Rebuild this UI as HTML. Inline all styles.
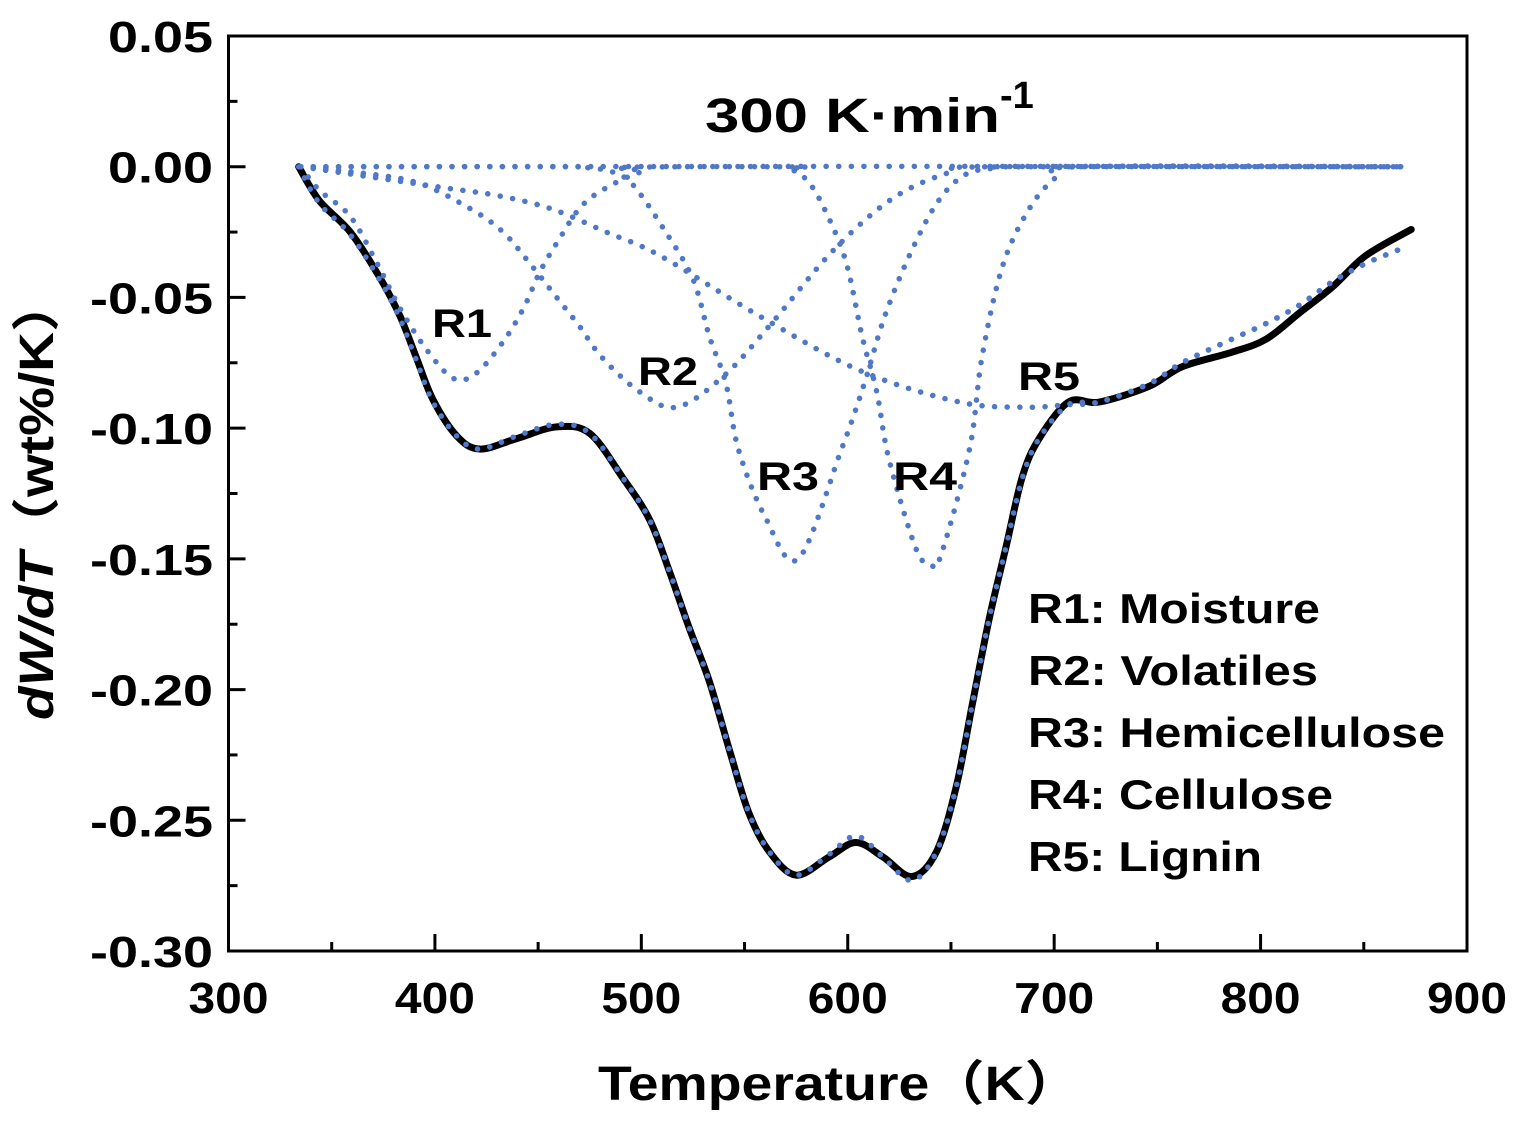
<!DOCTYPE html>
<html><head><meta charset="utf-8"><style>
html,body{margin:0;padding:0;background:#fff;}
svg{display:block;font-family:"Liberation Sans","Noto Sans CJK SC",sans-serif;font-weight:bold;}
</style></head><body>
<svg id="chart" width="1513" height="1131" viewBox="0 0 1513 1131" xmlns="http://www.w3.org/2000/svg">
<g id="axes"></g>
<g id="series"></g>
<text x="705" y="132" font-size="48"><tspan textLength="295" lengthAdjust="spacingAndGlyphs">300 K·min</tspan><tspan dy="-24" font-size="38">-1</tspan></text>
<g font-size="40">
<text x="432" y="337" textLength="60" lengthAdjust="spacingAndGlyphs">R1</text>
<text x="638" y="385" textLength="60" lengthAdjust="spacingAndGlyphs">R2</text>
<text x="757" y="490" textLength="62" lengthAdjust="spacingAndGlyphs">R3</text>
<text x="893" y="490" textLength="64" lengthAdjust="spacingAndGlyphs">R4</text>
<text x="1018" y="390" textLength="62" lengthAdjust="spacingAndGlyphs">R5</text>
</g>
<g font-size="42">
<text x="1028" y="623" textLength="292" lengthAdjust="spacingAndGlyphs">R1: Moisture</text>
<text x="1028" y="685" textLength="290" lengthAdjust="spacingAndGlyphs">R2: Volatiles</text>
<text x="1028" y="747" textLength="417" lengthAdjust="spacingAndGlyphs">R3: Hemicellulose</text>
<text x="1028" y="809" textLength="305" lengthAdjust="spacingAndGlyphs">R4: Cellulose</text>
<text x="1028" y="871" textLength="234" lengthAdjust="spacingAndGlyphs">R5: Lignin</text>
</g>
<text x="598" y="1100" font-size="48" textLength="482" lengthAdjust="spacingAndGlyphs">Temperature（K）</text>
<text transform="translate(53,720) rotate(-90)" font-size="48" textLength="443" lengthAdjust="spacingAndGlyphs"><tspan font-style="italic">dW/dT</tspan>（wt%/K）</text>
</svg>
<script>
const xTicks=[300,400,500,600,700,800,900];
const yTicks=[0.05,0,-0.05,-0.10,-0.15,-0.20,-0.25,-0.30];
const yTickLabels=["0.05","0.00","-0.05","-0.10","-0.15","-0.20","-0.25","-0.30"];
const expT=[334,344,359,373,383,391,399,410.6,421.7,439.6,459,475,491,504,513.7,523,533,543,552,562,575,591,604,617,631,643,652.6,660.5,668.5,676.8,684.6,692.7,707,722,746,762,786,802.6,818.7,834.8,851,873];
const expV=[0,-0.013,-0.025,-0.042,-0.057,-0.073,-0.089,-0.103,-0.108,-0.104,-0.0995,-0.102,-0.119,-0.135,-0.155,-0.176,-0.197,-0.224,-0.247,-0.262,-0.271,-0.264,-0.2585,-0.264,-0.2715,-0.262,-0.237,-0.205,-0.173,-0.145,-0.1185,-0.104,-0.090,-0.090,-0.084,-0.0765,-0.071,-0.066,-0.056,-0.046,-0.034,-0.024];
const fitT=[334,344,359,373,383,391,399,410.6,421.7,439.6,459,475,491,504,513.7,523,533,543,552,562,575,591,604,617,631,643,652.6,660.5,668.5,676.8,684.6,692.7,707,722,746,762,786,802.6,818.7,834.8,851,871];
const fitV=[0,-0.014,-0.026,-0.043,-0.058,-0.074,-0.090,-0.103,-0.108,-0.103,-0.0985,-0.102,-0.119,-0.135,-0.155,-0.176,-0.197,-0.224,-0.247,-0.262,-0.271,-0.263,-0.256,-0.264,-0.273,-0.262,-0.237,-0.205,-0.173,-0.145,-0.119,-0.104,-0.091,-0.090,-0.083,-0.075,-0.066,-0.060,-0.053,-0.044,-0.037,-0.0305];
const r1T=[335,344,359,372,383,396,409,420,433,443,451,460,470,481,500,520,870];
const r1V=[0,-0.009,-0.019,-0.037,-0.054,-0.070,-0.081,-0.079,-0.067,-0.054,-0.040,-0.028,-0.016,-0.009,-0.002,0,0];
const r2T=[335,360,391,417,433,446,459,470,481,499,517,540,563,593,622,650,670,870];
const r2V=[0,-0.002,-0.006,-0.016,-0.025,-0.037,-0.050,-0.061,-0.073,-0.086,-0.092,-0.080,-0.060,-0.032,-0.012,-0.002,0,0];
const r3T=[335,460,475,486,496,511,525,533,541,547,560,576,597,608,618,631,644,657,672,690,870];
const r3V=[0,0,-0.0005,-0.002,-0.007,-0.024,-0.043,-0.065,-0.083,-0.108,-0.134,-0.150,-0.108,-0.083,-0.057,-0.032,-0.013,-0.003,-0.0005,0,0];
const r4T=[335,560,572,580,588,599,607,614,620,633,640,645,659,665,675,688,701,713,870];
const r4V=[0,0,-0.001,-0.005,-0.015,-0.036,-0.065,-0.086,-0.112,-0.146,-0.152,-0.149,-0.108,-0.073,-0.038,-0.016,-0.004,0,0];
const r5T=[335,404,430,456,483,509,557,606,654,686,707,722,746,762,786,802.6,818.7,834.8,851,871];
const r5V=[0,-0.008,-0.011,-0.016,-0.025,-0.034,-0.057,-0.078,-0.090,-0.092,-0.091,-0.090,-0.083,-0.075,-0.066,-0.060,-0.053,-0.044,-0.037,-0.0305];
const X0=228.5,X1=1467,Y0=36,Y1=951;
function sx(t){return X0+(t-300)/600*(X1-X0);}
function sy(v){return Y0+(0.05-v)/0.35*(Y1-Y0);}
const NS="http://www.w3.org/2000/svg";
const axes=document.getElementById('axes'),series=document.getElementById('series');
function mk(tag,attrs,parent){const e=document.createElementNS(NS,tag);for(const k in attrs)e.setAttribute(k,attrs[k]);parent.appendChild(e);return e;}
let fr=mk('rect',{x:X0,y:Y0,width:X1-X0,height:Y1-Y0,fill:'none',stroke:'#000','stroke-width':3},axes);


for(let t=300;t<=900;t+=50){const major=t%100===0;const x=sx(t);
 let l=mk('line',{x1:x,x2:x,y1:Y1,y2:Y1-(major?17:9),stroke:'#000','stroke-width':3},axes);
 
 }
xTicks.forEach(t=>{let tx=mk('text',{x:sx(t),y:1013,'font-size':44,'text-anchor':'middle',textLength:80,lengthAdjust:'spacingAndGlyphs'},axes);tx.textContent=t;
 
 });
for(let i=0;i<=14;i++){const v=0.05-i*0.025;const major=i%2===0;const y=sy(v);
 let l=mk('line',{x1:X0,x2:X0+(major?17:9),y1:y,y2:y,stroke:'#000','stroke-width':3},axes);
 
 }
yTicks.forEach((v,i)=>{const lab=yTickLabels[i];let tx=mk('text',{x:213-(lab[0]==='-'?123:105),y:sy(v)+16,'font-size':44,textLength:(lab[0]==='-'?123:105),lengthAdjust:'spacingAndGlyphs'},axes);tx.textContent=lab;
 
 });
function pathD(T,V){const p=T.map((t,i)=>[sx(t),sy(V[i])]);let d='M'+p[0][0]+','+p[0][1];
 for(let i=0;i<p.length-1;i++){const a=p[Math.max(0,i-1)],b=p[i],c=p[i+1],e=p[Math.min(p.length-1,i+2)];
  const c1=[b[0]+(c[0]-a[0])/6,b[1]+(c[1]-a[1])/6],c2=[c[0]-(e[0]-b[0])/6,c[1]-(e[1]-b[1])/6];
  d+=' C'+c1[0]+','+c1[1]+' '+c2[0]+','+c2[1]+' '+c[0]+','+c[1];}
 return d;}
let ex=mk('path',{d:pathD(expT,expV),fill:'none',stroke:'#000','stroke-width':7,'stroke-linejoin':'round','stroke-linecap':'round'},series);


const dotted={fill:'none',stroke:'#4f78c8','stroke-width':5.5,'stroke-dasharray':'0.1 12.5','stroke-linecap':'round'};
[[r1T,r1V,'r1-moisture-curve'],[r2T,r2V,'r2-volatiles-curve'],[r3T,r3V,'r3-hemicellulose-curve'],[r4T,r4V,'r4-cellulose-curve'],[r5T,r5V,'r5-lignin-curve'],[fitT,fitV,'fitted-sum-curve']].forEach(s=>{
 let p=mk('path',Object.assign({d:pathD(s[0],s[1])},dotted),series);
 
 });
</script>
</body></html>
